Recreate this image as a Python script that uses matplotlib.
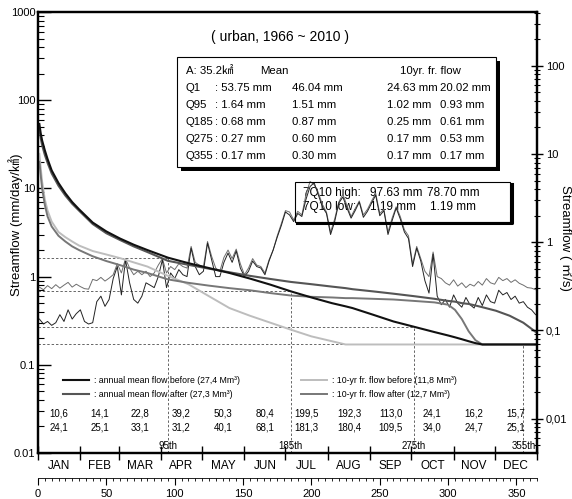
import matplotlib
matplotlib.use('Agg')
import matplotlib.pyplot as plt
import matplotlib.transforms as mtransforms
from matplotlib.lines import Line2D
from matplotlib.patches import Rectangle
from matplotlib.ticker import FixedLocator, LogLocator, MultipleLocator, NullFormatter

plt.rcParams['font.family'] = ['Liberation Sans', 'Noto Sans CJK KR']

W, H = 572, 499
area = 35.2  # km2, for the m3/s axis

# flow duration curves (mm/day)
fdc_days = [1, 2, 3, 5, 7, 10, 15, 20, 25, 30, 40, 50, 60, 70, 80, 95, 110, 125, 140, 155,
            170, 185, 200, 215, 225, 230, 245, 260, 275, 290, 300, 305, 310, 315, 320, 325,
            335, 345, 355, 365]
mean_before = [53.75, 42, 35, 27, 21.5, 16, 11.5, 8.8, 7.0, 5.8, 4.1, 3.25, 2.7, 2.3, 2.0, 1.64,
               1.42, 1.25, 1.1, 0.95, 0.81, 0.68, 0.58, 0.5, 0.46, 0.44, 0.37, 0.31, 0.27, 0.235,
               0.215, 0.205, 0.195, 0.185, 0.176, 0.17, 0.17, 0.17, 0.17, 0.17]
mean_after = [46.04, 37, 31, 24, 19.5, 14.8, 10.7, 8.3, 6.7, 5.6, 3.95, 3.1, 2.6, 2.2, 1.9, 1.51,
              1.36, 1.23, 1.12, 1.02, 0.94, 0.87, 0.82, 0.77, 0.74, 0.72, 0.68, 0.64, 0.60, 0.56,
              0.53, 0.52, 0.50, 0.49, 0.47, 0.45, 0.41, 0.36, 0.30, 0.23]
tenyr_before = [24.63, 17, 12, 7.5, 5.6, 4.2, 3.2, 2.8, 2.5, 2.25, 1.95, 1.78, 1.62, 1.45, 1.3, 1.02,
                0.82, 0.6, 0.44, 0.36, 0.3, 0.25, 0.21, 0.185, 0.17, 0.17, 0.17, 0.17, 0.17, 0.17,
                0.17, 0.17, 0.17, 0.17, 0.17, 0.17, 0.17, 0.17, 0.17, 0.17]
tenyr_after = [20.02, 14, 10, 6.5, 4.8, 3.7, 2.9, 2.5, 2.2, 2.0, 1.7, 1.5, 1.35, 1.2, 1.1, 0.93,
               0.85, 0.79, 0.74, 0.70, 0.65, 0.61, 0.59, 0.58, 0.57, 0.57, 0.56, 0.55, 0.53, 0.51,
               0.48, 0.42, 0.33, 0.24, 0.19, 0.17, 0.17, 0.17, 0.17, 0.17]

# daily hydrographs (mm/day), read every 3rd day
hydro_days = list(range(1, 366, 3))
hydro_upper = [0.76, 0.71, 0.79, 0.73, 0.81, 0.74, 0.80, 0.86, 0.76, 0.82,
               0.77, 0.73, 0.72, 0.93, 0.90, 0.98, 0.89, 0.96, 1.05, 1.40,
               1.10, 1.60, 1.25, 1.05, 1.15, 1.05, 1.15, 1.00, 1.10, 1.35,
               1.60, 1.10, 1.30, 1.20, 1.40, 1.30, 1.25, 2.20, 1.45, 1.35,
               1.30, 2.50, 1.70, 1.25, 1.15, 1.65, 2.00, 1.60, 2.05, 1.40,
               1.05, 1.25, 1.60, 1.35, 1.30, 1.10, 1.55, 2.00, 2.90, 4.00,
               5.60, 5.40, 4.40, 5.50, 5.00, 8.50, 12.0, 11.0, 9.00, 6.60,
               5.40, 3.20, 4.50, 7.00, 8.60, 6.40, 4.80, 5.90, 7.20, 5.00,
               5.80, 7.20, 8.80, 5.20, 5.80, 3.20, 4.60, 6.20, 4.80, 3.40,
               2.90, 1.40, 2.20, 1.60, 1.15, 1.00, 1.90, 1.00, 0.95, 0.85,
               0.80, 0.92, 0.78, 0.85, 0.75, 0.82, 0.78, 0.88, 0.80, 0.95,
               0.85, 0.82, 0.98, 0.90, 0.95, 0.86, 0.92, 0.84, 0.80, 0.75,
               0.74, 0.71]
hydro_lower = [0.33, 0.29, 0.31, 0.28, 0.30, 0.37, 0.31, 0.42, 0.33, 0.38,
               0.42, 0.31, 0.29, 0.30, 0.52, 0.60, 0.46, 0.55, 0.95, 1.30,
               0.62, 1.55, 0.85, 0.55, 0.50, 0.60, 0.85, 0.80, 0.75, 1.00,
               1.55, 0.75, 1.10, 0.95, 1.20, 1.05, 1.00, 2.10, 1.30, 1.05,
               1.15, 2.40, 1.55, 1.00, 1.00, 1.45, 1.85, 1.45, 1.95, 1.25,
               1.00, 1.15, 1.50, 1.30, 1.25, 1.05, 1.50, 2.00, 2.80, 3.80,
               5.40, 5.00, 4.20, 5.20, 4.80, 7.50, 10.5, 11.6, 8.50, 6.20,
               5.20, 3.00, 4.20, 6.80, 8.00, 6.00, 4.60, 5.60, 7.00, 4.70,
               5.50, 6.80, 8.40, 4.90, 5.60, 3.00, 4.30, 6.00, 4.50, 3.20,
               2.70, 1.30, 2.10, 1.50, 0.90, 0.65, 1.80, 0.60, 0.48, 0.55,
               0.45, 0.62, 0.50, 0.45, 0.58, 0.48, 0.44, 0.58, 0.47, 0.62,
               0.52, 0.50, 0.70, 0.62, 0.66, 0.55, 0.60, 0.50, 0.52, 0.45,
               0.42, 0.37]

q_days = [95, 185, 275, 355]
q_vals = [1.64, 0.68, 0.27, 0.17]
q_labels = ['95th', '185th', '275th', '355th']

month_edges = [0, 31, 59, 90, 120, 151, 181, 212, 243, 273, 304, 334, 365]
month_names = ['JAN', 'FEB', 'MAR', 'APR', 'MAY', 'JUN', 'JUL', 'AUG', 'SEP', 'OCT', 'NOV', 'DEC']
month_row1 = ['10,6', '14,1', '22,8', '39,2', '50,3', '80,4', '199,5', '192,3', '113,0', '24,1', '16,2', '15,7']
month_row2 = ['24,1', '25,1', '33,1', '31,2', '40,1', '68,1', '181,3', '180,4', '109,5', '34,0', '24,7', '25,1']

legend_labels = [': annual mean flow before (27,4 Mm³)', ': annual mean flow after (27,3 Mm³)',
                 ': 10-yr fr. flow before (11,8 Mm³)', ': 10-yr fr. flow after (12,7 Mm³)']

table_rows = [['Q1', ': 53.75 mm', '46.04 mm', '24.63 mm', '20.02 mm'],
              ['Q95', ': 1.64 mm', '1.51 mm', '1.02 mm', '0.93 mm'],
              ['Q185', ': 0.68 mm', '0.87 mm', '0.25 mm', '0.61 mm'],
              ['Q275', ': 0.27 mm', '0.60 mm', '0.17 mm', '0.53 mm'],
              ['Q355', ': 0.17 mm', '0.30 mm', '0.17 mm', '0.17 mm']]

c_mb, c_ma, c_tb, c_ta = '#111111', '#555555', '#bdbdbd', '#777777'


def fx(px):
    return px / W


def fy(py):
    return 1 - py / H


fig = plt.figure(figsize=(W / 100, H / 100), dpi=100)
ax = fig.add_axes([fx(38), fy(453), 499 / W, 441 / H])
ax.set_yscale('log')
ax.set_xlim(0, 365)
ax.set_ylim(0.01, 1000)
for s in ax.spines.values():
    s.set_linewidth(1.6)

# hydrographs
ax.plot(hydro_days, hydro_upper, color='#6e6e6e', lw=0.7, zorder=3)
ax.plot(hydro_days, hydro_lower, color='#222222', lw=0.7, zorder=3)

# duration curves
ax.plot(fdc_days, tenyr_before, color=c_tb, lw=1.4, zorder=4)
ax.plot(fdc_days, tenyr_after, color=c_ta, lw=1.4, zorder=4)
ax.plot(fdc_days, mean_after, color=c_ma, lw=1.5, zorder=4)
ax.plot(fdc_days, mean_before, color=c_mb, lw=1.5, zorder=5)

# dashed guide lines
for d, v in zip(q_days, q_vals):
    ax.plot([0, d], [v, v], color='#666666', lw=0.7, ls=(0, (2.5, 2)), zorder=2)
    ax.plot([d, d], [0.01, v], color='#666666', lw=0.7, ls=(0, (2.5, 2)), zorder=2)

# left axis ticks
ax.yaxis.set_minor_locator(LogLocator(base=10, subs=range(2, 10), numticks=20))
ax.yaxis.set_minor_formatter(NullFormatter())
ax.set_yticks([0.01, 0.1, 1, 10, 100, 1000])
ax.set_yticklabels(['0.01', '0.1', '1', '10', '100', '1000'])
ax.tick_params(axis='y', which='major', direction='in', length=9, width=1, labelsize=8, pad=2)
ax.tick_params(axis='y', which='minor', direction='in', length=4, width=0.8)

# month axis
ax.xaxis.set_major_locator(FixedLocator(month_edges))
ax.xaxis.set_minor_locator(FixedLocator([(a + b) / 2 for a, b in zip(month_edges[:-1], month_edges[1:])]))
ax.set_xticklabels([], minor=False)
ax.set_xticklabels(month_names, minor=True)
ax.tick_params(axis='x', which='major', direction='inout', length=10, width=1)
ax.tick_params(axis='x', which='minor', length=0, labelsize=8.5, pad=5)

# right axis in m3/s
k = area / 86.4
ax2 = ax.twinx()
ax2.set_yscale('log')
ax2.set_ylim(0.01 * k, 1000 * k)
ax2.set_yticks([0.01, 0.1, 1, 10, 100])
ax2.set_yticklabels(['0,01', '0,1', '1', '10', '100'])
ax2.yaxis.set_minor_locator(LogLocator(base=10, subs=range(2, 10), numticks=20))
ax2.yaxis.set_minor_formatter(NullFormatter())
ax2.tick_params(axis='y', which='major', direction='inout', length=9, width=1, labelsize=8, pad=2)
ax2.tick_params(axis='y', which='minor', direction='inout', length=5, width=0.8)
for s in ax2.spines.values():
    s.set_linewidth(1.6)

# day ruler
rax = fig.add_axes([fx(38), fy(478), 499 / W, 0.01])
rax.set_xlim(0, 365)
rax.set_yticks([])
for side in ['top', 'left', 'right']:
    rax.spines[side].set_visible(False)
rax.spines['bottom'].set_linewidth(0.6)
rax.patch.set_visible(False)
rax.xaxis.set_major_locator(MultipleLocator(50))
rax.xaxis.set_minor_locator(MultipleLocator(5))
rax.tick_params(axis='x', which='major', direction='out', length=5, width=0.8, labelsize=8, pad=3)
rax.tick_params(axis='x', which='minor', direction='out', length=2.5, width=0.6)

# monthly numbers and percentile labels
bt = mtransforms.blended_transform_factory(ax.transData, ax.transAxes)
centers = [(a + b) / 2 for a, b in zip(month_edges[:-1], month_edges[1:])]
for c, r1, r2 in zip(centers, month_row1, month_row2):
    ax.text(c, (453 - 413) / 441, r1, transform=bt, ha='center', va='center', fontsize=7)
    ax.text(c, (453 - 428) / 441, r2, transform=bt, ha='center', va='center', fontsize=7)
for d, lab in zip(q_days, q_labels):
    ax.text(d, (453 - 446) / 441, lab, transform=bt, ha='center', va='center', fontsize=7)

# legend
handles = [Line2D([], [], color=c_mb, lw=1.5), Line2D([], [], color=c_ma, lw=1.5),
           Line2D([], [], color=c_tb, lw=1.4), Line2D([], [], color=c_ta, lw=1.4)]
ax.legend(handles, legend_labels, ncol=2, loc='upper left',
          bbox_to_anchor=((63 - 38) / 499, (453 - 376) / 441), frameon=False, fontsize=6.3,
          handlelength=3.0, handletextpad=0.5, columnspacing=7.0, labelspacing=0.55,
          borderpad=0, borderaxespad=0)

# title and statistics table
ax.text(fx(280), fy(37), '( urban, 1966 ~ 2010 )', transform=fig.transFigure, ha='center',
        va='center', fontsize=10)
ax.add_patch(Rectangle((fx(181), fy(171)), (496 - 177) / W, (167 - 57) / H, transform=fig.transFigure,
                       facecolor='black', edgecolor='none', clip_on=False, zorder=6))
ax.add_patch(Rectangle((fx(177), fy(167)), (496 - 177) / W, (167 - 57) / H, transform=fig.transFigure,
                       facecolor='white', edgecolor='black', lw=0.8, clip_on=False, zorder=7))
head_y = 71
ax.text(fx(186), fy(head_y), 'A: 35.2㎢', transform=fig.transFigure, va='center', fontsize=8.2, zorder=8)
ax.text(fx(260), fy(head_y), 'Mean', transform=fig.transFigure, va='center', fontsize=8.2, zorder=8)
ax.text(fx(400), fy(head_y), '10yr. fr. flow', transform=fig.transFigure, va='center', fontsize=8.2, zorder=8)
col_x = [186, 215, 292, 387, 440]
for i, row in enumerate(table_rows):
    for cx, cell in zip(col_x, row):
        ax.text(fx(cx), fy(88 + 17 * i), cell, transform=fig.transFigure, va='center', fontsize=8.2, zorder=8)

# 7Q10 box
ax.plot([fx(297), fx(512), fx(512)], [fy(223), fy(223), fy(184)], transform=fig.transFigure,
        color='black', lw=2.2, clip_on=False, zorder=6)
ax.add_patch(Rectangle((fx(295), fy(222)), (510 - 295) / W, (222 - 182) / H, transform=fig.transFigure,
                       facecolor='none', edgecolor='black', lw=0.8, clip_on=False, zorder=6))
ax.text(fx(303), fy(193), '7Q10 high:', transform=fig.transFigure, va='center', fontsize=8.5, zorder=2)
ax.text(fx(370), fy(193), '97.63 mm', transform=fig.transFigure, va='center', fontsize=8.5, zorder=2)
ax.text(fx(427), fy(193), '78.70 mm', transform=fig.transFigure, va='center', fontsize=8.5, zorder=2)
ax.text(fx(303), fy(207), '7Q10 low:', transform=fig.transFigure, va='center', fontsize=8.5, zorder=2)
ax.text(fx(370), fy(207), '1.19 mm', transform=fig.transFigure, va='center', fontsize=8.5, zorder=2)
ax.text(fx(430), fy(207), '1.19 mm', transform=fig.transFigure, va='center', fontsize=8.5, zorder=2)

# axis titles
fig.text(fx(16), fy(225), 'Streamflow (mm/day/㎢)', rotation=90, ha='center', va='center', fontsize=9.5)
fig.text(fx(566), fy(238), 'Streamflow ( ㎥/s)', rotation=270, ha='center', va='center', fontsize=9.5)

fig.savefig('out.png', dpi=100)
